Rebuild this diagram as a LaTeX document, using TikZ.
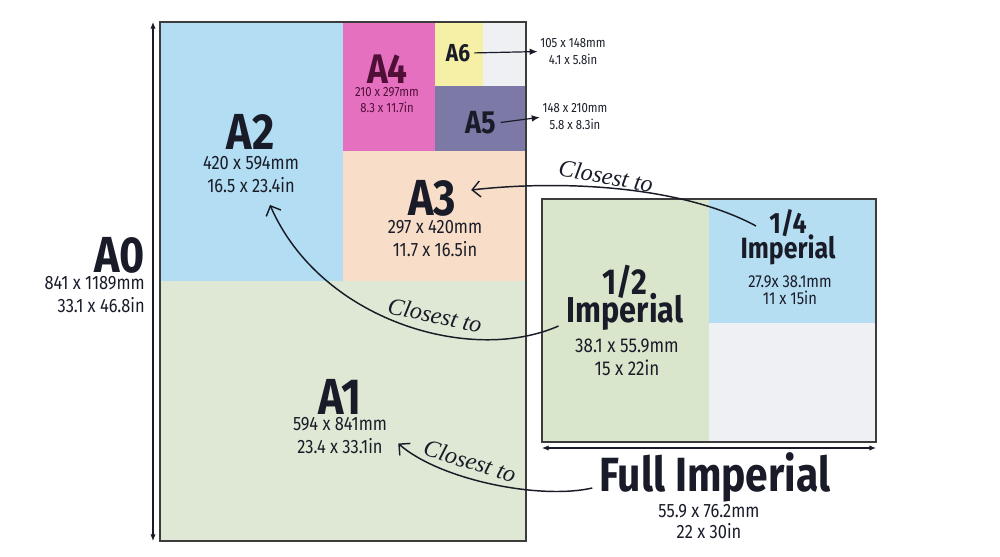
\documentclass[tikz,border=0pt]{standalone}
\usepackage{fontspec}
\setmainfont{Fira Sans}[FakeStretch=0.85]
\newfontfamily\handfont{Liberation Serif}
\usetikzlibrary{arrows.meta,positioning,calc}

\definecolor{ink}{RGB}{25,28,40}
\definecolor{inkred}{RGB}{80,15,55}
\definecolor{edge}{RGB}{60,60,60}
\definecolor{a2blue}{RGB}{178,221,242}
\definecolor{a1green}{RGB}{223,232,212}
\definecolor{a3peach}{RGB}{248,222,200}
\definecolor{a4pink}{RGB}{229,112,192}
\definecolor{a6yellow}{RGB}{245,240,165}
\definecolor{a5purple}{RGB}{124,121,166}
\definecolor{paperwhite}{RGB}{238,240,243}
\definecolor{halfgreen}{RGB}{218,230,203}
\definecolor{quartblue}{RGB}{182,222,243}

\begin{document}
\begin{tikzpicture}[x=0.75pt, y=-0.75pt,
  title/.style={font=\bfseries\fontsize{38}{38}\selectfont, text=ink, inner sep=0pt},
  dims/.style={font=\fontsize{14.5}{17.25}\selectfont, text=ink, align=center, inner sep=0pt},
  tinydims/.style={font=\fontsize{10}{12.75}\selectfont, text=ink, align=center, inner sep=0pt},
  imp/.style={font=\bfseries\fontsize{27}{27}\selectfont, text=ink, inner sep=0pt},
  hand/.style={font=\handfont\itshape\fontsize{18}{18}\selectfont, text=ink, inner sep=0pt},
  edgeline/.style={draw=edge, line width=0.9pt},
  dimarr/.style={{Latex[length=5pt,width=4pt]}-{Latex[length=5pt,width=4pt]}, line width=0.8pt, draw=ink},
  arr/.style={-{Latex[length=6pt,width=5pt]}, line width=0.9pt, draw=ink, shorten <=3pt, shorten >=2pt},
  closest/.style={-{Straight Barb[length=6pt,width=12pt]}, line width=1.1pt, draw=ink}
]

\fill[white] (0,0) rectangle (1000,557);
\useasboundingbox (0,0) rectangle (1000,557);

% A-series sheet
\coordinate (a0nw) at (160,22);
\coordinate (a0se) at (526,541);
\fill[a1green] (160,281) rectangle (526,541);
\fill[a2blue] (160,22) rectangle (343,281);
\fill[a3peach] (343,151) rectangle (526,281);
\fill[a4pink] (343,22) rectangle (435,151);
\fill[paperwhite] (435,22) rectangle (526,86);
\fill[a6yellow] (435,22) rectangle (483,86);
\fill[a5purple] (435,86) rectangle (526,151);
\draw[edgeline] (a0nw) rectangle (a0se);
\draw[dimarr] ([xshift=-5.25pt]a0nw) -- ([xshift=-5.25pt]a0nw |- a0se);

% imperial sheet
\coordinate (imnw) at (542,199);
\coordinate (imse) at (876,442);
\fill[halfgreen] (542,199) rectangle (709,442);
\fill[quartblue] (709,199) rectangle (876,323);
\fill[paperwhite] (709,323) rectangle (876,442);
\draw[edgeline] (imnw) rectangle (imse);
\draw[dimarr] ([yshift=-4.5pt]imnw |- imse) -- ([yshift=-4.5pt]imse);

% labels
\node[title, anchor=east] (a0) at (145,255) {A0};
\node[dims, align=right, anchor=north east] (a0dim) at (145,276) {841 x 1189mm\\33.1 x 46.8in};

\node[title] (a2) at (251,132) {A2};
\node[dims] (a2dim) at (251,174.5) {420 x 594mm\\16.5 x 23.4in};

\node[title] (a3) at (432,198) {A3};
\node[dims] (a3dim) at (435,239) {297 x 420mm\\11.7 x 16.5in};

\node[title] (a1) at (340,397) {A1};
\node[dims] (a1dim) at (340,435.5) {594 x 841mm\\23.4 x 33.1in};

\node[title, font=\bfseries\fontsize{31}{31}\selectfont, text=inkred] (a4) at (387,69) {A4};
\node[dims, font=\fontsize{10}{12}\selectfont, text=inkred] (a4dim) at (387,100) {210 x 297mm\\8.3 x 11.7in};

\node[title, font=\bfseries\fontsize{18.5}{18.5}\selectfont] (a6) at (458,53) {A6};
\node[tinydims] (a6dim) at (573,51.5) {105 x 148mm\\4.1 x 5.8in};
\draw[arr] (a6.east) -- (a6dim.west);

\node[title, font=\bfseries\fontsize{24}{24}\selectfont] (a5) at (481,123) {A5};
\node[tinydims] (a5dim) at (575,117) {148 x 210mm\\5.8 x 8.3in};
\draw[arr] (a5.east) -- (a5dim.west);

\node[imp] (h2num) at (625,282) {1/2};
\node[imp] (h2name) at (625,312) {Imperial};
\node[dims, font=\fontsize{15}{17.25}\selectfont] (h2dim) at (627,357.5) {38.1 x 55.9mm\\15 x 22in};

\node[imp, font=\bfseries\fontsize{22}{22}\selectfont] (q4num) at (788,223) {1/4};
\node[imp, font=\bfseries\fontsize{22}{22}\selectfont] (q4name) at (788,250) {Imperial};
\node[dims, font=\fontsize{13}{12.75}\selectfont] (q4dim) at (790,290.5) {27.9x 38.1mm\\11 x 15in};

\node[title, font=\bfseries\fontsize{36}{36}\selectfont] (full) at (715,477) {Full Imperial};
\node[dims, font=\fontsize{14.5}{16}\selectfont] (fulldim) at (709,521.5) {55.9 x 76.2mm\\22 x 30in};

% closest-to curves
\draw[closest] ($(q4num.west)+(-13,3)$) .. controls (680,185) and (560,180) .. ($(a3.east)+(15,-8)$);
\node[hand, rotate=-10] (c1) at (606,176) {Closest to};

\draw[closest] ($(h2name.west)+(-8,14)$) .. controls (470,365) and (320,320) .. ($(a2dim.south)+(19,12)$);
\node[hand, rotate=-12] (c2) at (435,315) {Closest to};

\draw[closest] ($(full.west)+(-7,11)$) .. controls (540,500) and (440,480) .. ($(a1dim.east)+(11,8)$);
\node[hand, rotate=-17] (c3) at (470,461) {Closest to};

\end{tikzpicture}
\end{document}
